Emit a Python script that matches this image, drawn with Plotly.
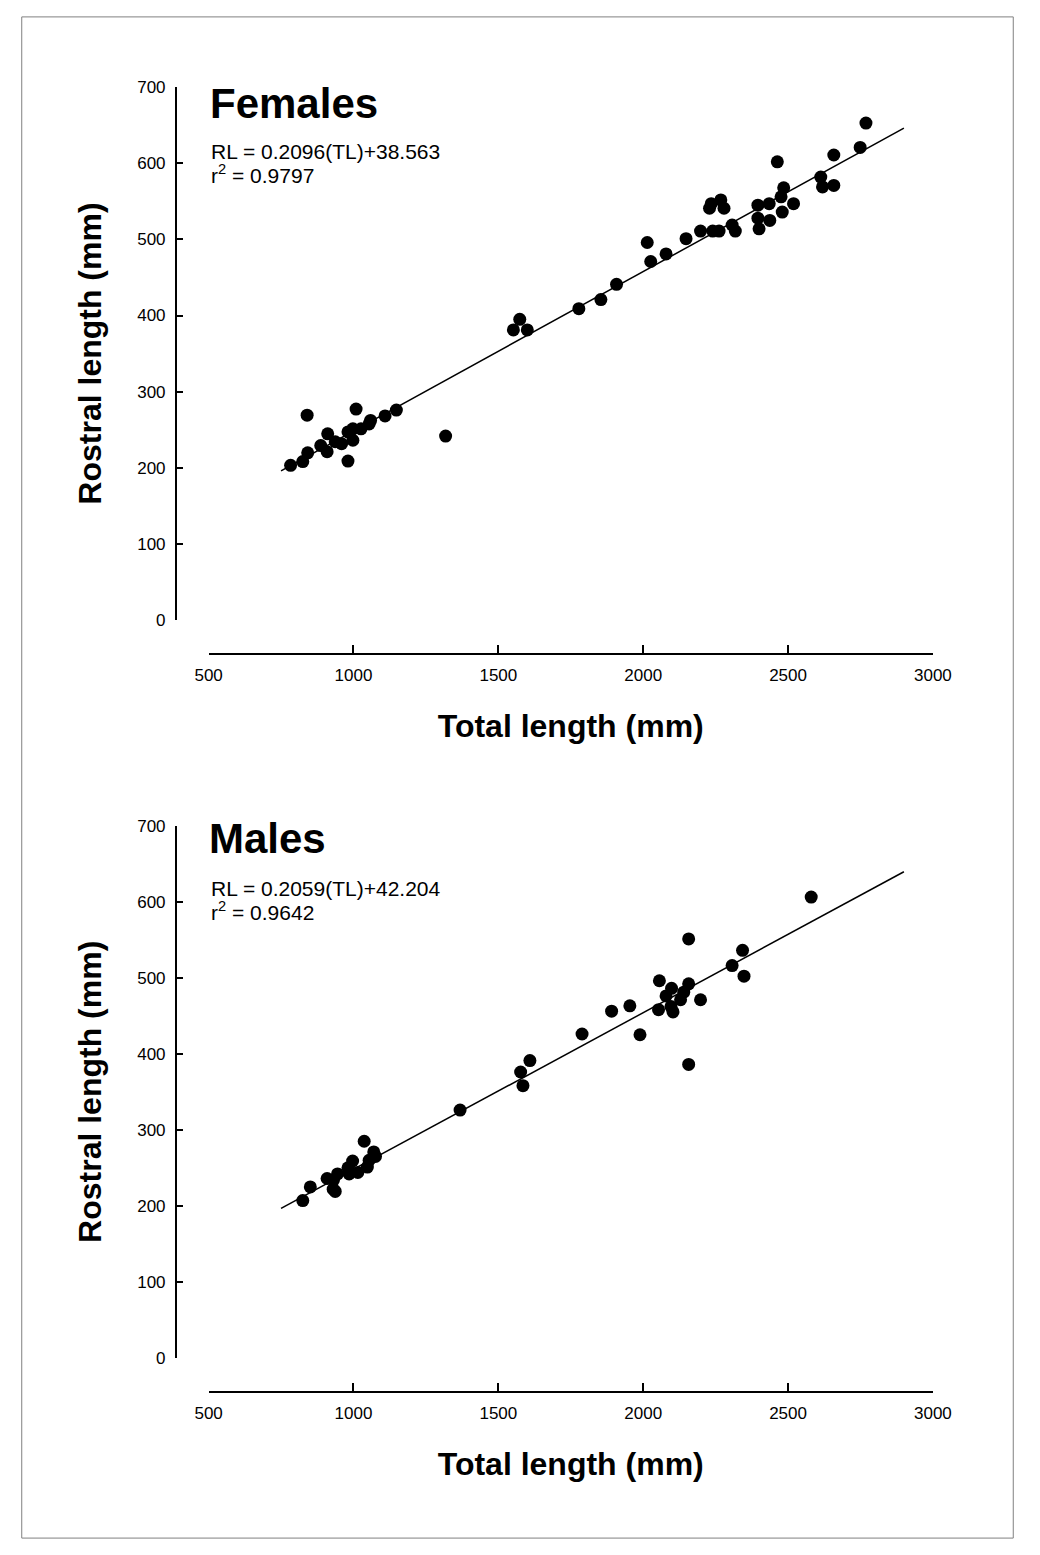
import plotly.graph_objects as go

W, H = 1040, 1555

# ---------------- data ----------------
fem_tl = [783, 825, 840, 842, 887, 909, 911, 937, 959, 981, 981, 998, 998, 1009, 1026,
          1054, 1059, 1109, 1148, 1318, 1552, 1574, 1600, 1778, 1854, 1908, 2014, 2026,
          2079, 2148, 2198, 2229, 2235, 2240, 2262, 2268, 2279, 2307, 2318, 2396, 2396,
          2400, 2435, 2437, 2463, 2476, 2480, 2485, 2519, 2613, 2619, 2658, 2658, 2749, 2769]
fem_rl = [203, 208, 269, 219.5, 229, 221, 244.5, 234, 231.5, 247, 208.6, 251, 236, 277, 251,
          257.5, 262, 268, 275.7, 241.5, 381, 395, 381, 409, 421, 441, 496, 471,
          481, 501, 511, 541, 547, 511, 511, 552, 541, 519, 511, 545, 528,
          514, 547, 525, 602, 556, 536, 568, 547, 582, 569, 571, 611, 621, 653]

male_tl = [825, 851, 909, 930, 937, 931, 945, 985, 981, 997, 1015, 1037, 1048, 1054, 1070,
           1076, 1368, 1577, 1585, 1609, 1789, 1891, 1954, 1989, 2053, 2056, 2079, 2096,
           2098, 2103, 2129, 2140, 2157, 2157, 2157, 2198, 2307, 2343, 2348, 2580]
male_rl = [207, 225, 236, 222, 219, 234, 242, 242, 250, 259, 244, 285, 251, 260, 271,
           265, 326, 376, 358, 391, 426, 456, 463, 425, 458, 496, 476, 462,
           486, 455, 471, 481, 492, 551, 386, 471, 516, 536, 502, 606]

fit_x = [750, 2900]
fem_slope, fem_int = 0.2096, 38.563
male_slope, male_int = 0.2059, 42.204

x_ticks = [500, 1000, 1500, 2000, 2500, 3000]
y_ticks = [0, 100, 200, 300, 400, 500, 600, 700]

FONT = "Liberation Sans, Arial, sans-serif"

def px(x):
    return x / W

def py(y):
    return 1 - y / H

fig = go.Figure()

fig.add_trace(go.Scatter(x=fem_tl, y=fem_rl, mode="markers", xaxis="x", yaxis="y",
                         marker=dict(color="black", size=13), showlegend=False))
fig.add_trace(go.Scatter(x=fit_x, y=[fem_slope * v + fem_int for v in fit_x], mode="lines",
                         xaxis="x", yaxis="y", line=dict(color="black", width=1.5),
                         showlegend=False))
fig.add_trace(go.Scatter(x=male_tl, y=male_rl, mode="markers", xaxis="x2", yaxis="y2",
                         marker=dict(color="black", size=13), showlegend=False))
fig.add_trace(go.Scatter(x=fit_x, y=[male_slope * v + male_int for v in fit_x], mode="lines",
                         xaxis="x2", yaxis="y2", line=dict(color="black", width=1.5),
                         showlegend=False))

xdom = [px(201), px(949)]

def xax(pos_px):
    return dict(domain=xdom, range=[500, 3000], anchor="free", position=py(pos_px),
                showline=True, linecolor="black", linewidth=1.5, ticks="inside",
                ticklen=8, tickwidth=1.5, tickcolor="black", tickvals=x_ticks,
                showgrid=False, zeroline=False,
                tickfont=dict(family=FONT, size=17, color="black"), ticklabelstandoff=6,
                title=dict(text="<b>Total length (mm)</b>", standoff=30,
                           font=dict(family=FONT, size=32, color="black")))

def yax(top_px, bot_px):
    return dict(domain=[py(bot_px), py(top_px)], range=[0, 700], anchor="free",
                position=px(167), showline=True, linecolor="black", linewidth=1.5,
                ticks="inside", ticklen=7, tickwidth=1.5, tickcolor="black",
                tickvals=y_ticks, showgrid=False, zeroline=False,
                tickfont=dict(family=FONT, size=17, color="black"), ticklabelstandoff=6,
                title=dict(text="<b>Rostral length (mm)</b>", standoff=25,
                           font=dict(family=FONT, size=32, color="black")))

annots = []
def label(text, x, y, size, bold=False):
    annots.append(dict(text=("<b>%s</b>" % text) if bold else text, x=px(x), y=py(y),
                       xref="paper", yref="paper", xanchor="left", yanchor="middle",
                       showarrow=False, font=dict(family=FONT, size=size, color="black")))

label("Females", 200, 96, 42, True)
label("RL = 0.2096(TL)+38.563", 201, 144, 21)
label("r<sup>2</sup> = 0.9797", 201, 167, 21)
label("Males", 199, 840, 42, True)
label("RL = 0.2059(TL)+42.204", 201, 890, 21)
label("r<sup>2</sup> = 0.9642", 201, 913, 21)

fig.update_layout(
    width=W, height=H, margin=dict(l=0, r=0, t=0, b=0),
    paper_bgcolor="white", plot_bgcolor="white",
    xaxis=xax(652.7), yaxis=yax(79.3, 618.3),
    xaxis2=xax(1400), yaxis2=yax(826.7, 1365.7),
    annotations=annots,
    shapes=[dict(type="rect", xref="paper", yref="paper", x0=px(8), x1=px(1032),
                 y0=py(1548), y1=py(8), line=dict(color="#808080", width=1))],
    font=dict(family=FONT, color="black"),
)

fig.write_html("out.html", config={"displayModeBar": False},
               post_script="document.body.style.margin='0';"
                           "document.body.style.padding='0';"
                           "document.body.style.overflow='hidden';"
                           "document.documentElement.style.overflow='hidden';")
